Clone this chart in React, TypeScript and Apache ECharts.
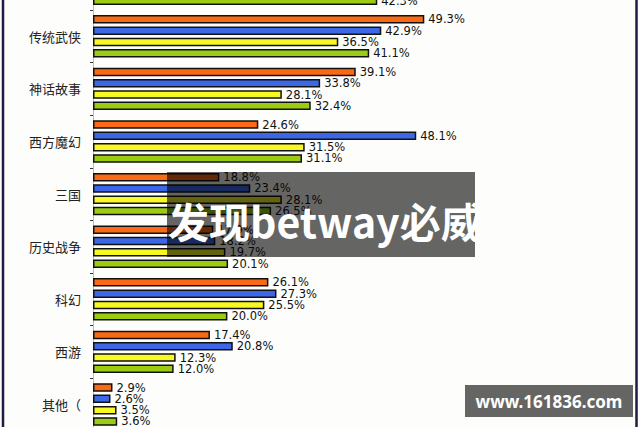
import React, { useEffect, useRef } from "react";
import * as echarts from "echarts";

const categories = ["", "传统武侠", "神话故事", "西方魔幻", "三国", "历史战争", "科幻", "西游", "其他（"];
const seriesNames = ["A", "B", "C", "D"];
const orangeValues = [null, 49.3, 39.1, 24.6, 18.8, 17.9, 26.1, 17.4, 2.9];
const blueValues = [null, 42.9, 33.8, 48.1, 23.4, 18.2, 27.3, 20.8, 2.6];
const yellowValues = [null, 36.5, 28.1, 31.5, 28.1, 19.7, 25.5, 12.3, 3.5];
const greenValues = [42.3, 41.1, 32.4, 31.1, 26.5, 20.1, 20.0, 12.0, 3.6];
const colors = ["#fa6a14", "#3c68e8", "#f8f822", "#9ccc12"];

const OFF = 43; // chart canvas starts this many px above the visible frame

export default function App() {
  const ref = useRef<HTMLDivElement>(null);
  useEffect(() => {
    if (!ref.current) return;
    const chart = echarts.init(ref.current, null, { renderer: "svg" });
    const all = [orangeValues, blueValues, yellowValues, greenValues];
    const series = all.map((vals, i) => ({
      name: seriesNames[i],
      type: "bar",
      data: vals,
      barWidth: 8.5,
      barGap: "33%",
      itemStyle: { color: colors[i], borderColor: "#111", borderWidth: 1.5 },
      label: {
        show: true,
        position: "right",
        distance: 4,
        color: "#111",
        fontSize: 11.5,
        fontFamily: "DejaVu Sans",
        formatter: (p: any) => (p.value == null ? "" : Number(p.value).toFixed(1) + "%"),
      },
    }));
    chart.setOption({
      animation: false,
      backgroundColor: "#fdfdfb",
      grid: { left: 93, top: 0.4, height: 473.4, width: 537.6, containLabel: false },
      xAxis: {
        type: "value",
        min: 0,
        max: 80,
        show: false,
      },
      yAxis: {
        type: "category",
        data: categories,
        inverse: true,
        axisLine: { show: true, lineStyle: { color: "#bbb", width: 1 } },
        axisTick: { show: true, length: 3, lineStyle: { color: "#333" } },
        axisLabel: {
          color: "#222",
          fontSize: 13,
          margin: 12,
          fontFamily: "Noto Sans CJK SC",
        },
      },
      series,
      graphic: [
        {
          type: "line",
          shape: { x1: 3, y1: 0, x2: 3, y2: 480 },
          style: { stroke: "#1c1c44", lineWidth: 2.5 },
          z: 100,
        },
        {
          type: "line",
          shape: { x1: 636.5, y1: 0, x2: 636.5, y2: 480 },
          style: { stroke: "#1c1c44", lineWidth: 2.5 },
          z: 100,
        },
        {
          type: "rect",
          shape: { x: 167, y: 172 + OFF, width: 308, height: 85 },
          style: { fill: "rgba(0,0,0,0.6)" },
          z: 100,
        },
        {
          type: "text",
          x: 168,
          y: 220 + OFF,
          style: {
            text: "发现betway必威",
            fill: "#ffffff",
            fontSize: 41,
            fontWeight: "bold",
            fontFamily: "Noto Sans CJK SC",
            verticalAlign: "middle",
            align: "left",
          },
          z: 101,
        },
        {
          type: "rect",
          shape: { x: 465, y: 385 + OFF, width: 168, height: 32 },
          style: { fill: "rgba(0,0,0,0.6)" },
          z: 100,
        },
        {
          type: "text",
          x: 549,
          y: 401 + OFF,
          style: {
            text: "www.161836.com",
            fill: "#ffffff",
            fontSize: 17,
            fontWeight: "bold",
            fontFamily: "Noto Sans",
            verticalAlign: "middle",
            align: "center",
          },
          z: 101,
        },
      ],
    });
    return () => chart.dispose();
  }, []);
  return (
    <div
      style={{ position: "absolute", left: 0, top: 0, width: 640, height: 427, overflow: "hidden" }}
    >
      <div
        ref={ref}
        style={{ position: "absolute", left: 0, top: -OFF, width: 640, height: 474 }}
      />
    </div>
  );
}
